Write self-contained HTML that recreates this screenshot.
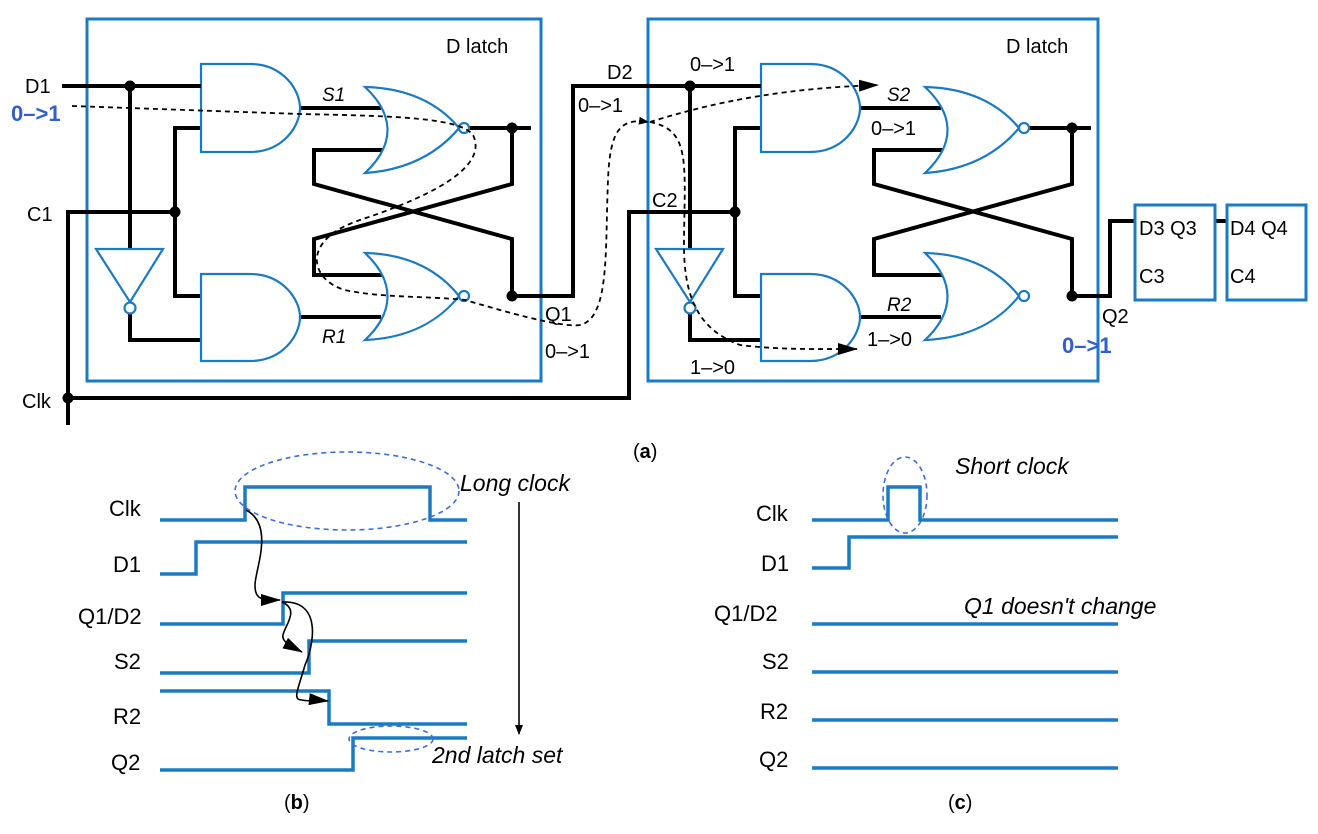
<!DOCTYPE html>
<html><head><meta charset="utf-8"><style>
html,body{margin:0;padding:0;background:#fff}
text{font-family:"Liberation Sans",Arial,sans-serif;font-size:20px;fill:#000}
.it{font-style:italic}
.w{font-size:22px}
</style></head><body>
<svg width="1318" height="829" viewBox="0 0 1318 829" xmlns="http://www.w3.org/2000/svg">
<defs>
<marker id="ah" markerWidth="10" markerHeight="8" refX="9" refY="4" orient="auto" markerUnits="userSpaceOnUse"><path d="M0,0 L10,4 L0,8 Z" fill="#000"/></marker>
<marker id="ah2" markerWidth="20" markerHeight="12" refX="19" refY="6" orient="auto" markerUnits="userSpaceOnUse"><path d="M0,0 L20,6 L0,12 Z" fill="#000"/></marker>
<g id="latch">
 <g fill="none" stroke="#000" stroke-width="4">
  <path d="M130,86 V249"/>
  <path d="M130,314 V340 H201"/>
  <path d="M201,128 H175 V296 H201"/>
  <path d="M300,108 H381"/>
  <path d="M300,317 H381"/>
  <path d="M384,150 H314 V184 L512,239 V296"/>
  <path d="M469,128 H531 M512,128 V184 L314,239 V275 H384"/>
 </g>
 <circle cx="130" cy="86" r="5.5"/><circle cx="175" cy="212" r="5.5"/>
 <circle cx="512" cy="128" r="5.5"/><circle cx="512" cy="296" r="5.5"/>
 <g fill="#fff" stroke="#1a7bc4" stroke-width="2.2">
  <path d="M96,249 H163 L130,302 Z"/>
  <circle cx="130" cy="308" r="5.5"/>
  <path d="M201,64 H250 C283,64 300,90 300,108 C300,126 283,152 250,152 H201 Z"/>
  <path d="M201,274 H250 C283,274 300,300 300,317 C300,335 283,361 250,361 H201 Z"/>
  <path d="M365,87 C410,88 440,105 459,128 C440,151 410,170 365,173 C395,145 395,115 365,87 Z"/>
  <path d="M365,253 C410,254 440,272 459,296 C440,320 410,338 365,340 C395,312 395,281 365,253 Z"/>
  <circle cx="464" cy="128" r="5"/><circle cx="464" cy="296" r="5"/>
 </g>
</g>
</defs>

<rect x="87" y="19" width="454" height="362" fill="none" stroke="#1a7bc4" stroke-width="3"/>
<rect x="648" y="19" width="450" height="362" fill="none" stroke="#1a7bc4" stroke-width="3"/>
<text x="446" y="53">D latch</text>
<text x="1006" y="53">D latch</text>

<use href="#latch"/>
<use href="#latch" transform="translate(560,0)"/>

<g fill="none" stroke="#000" stroke-width="4">
 <path d="M62,86 H201"/>
 <path d="M68,425 V212 H175"/>
 <path d="M68,398 H629 V212 H735"/>
 <path d="M512,296 H573 V86 H761"/>
 <path d="M1071,296 H1110 V221 H1135"/>
 <path d="M1215,221 H1227"/>
</g>
<circle cx="68" cy="398" r="5.5"/>
<rect x="1135" y="205" width="80" height="95" fill="none" stroke="#1a7bc4" stroke-width="3"/>
<rect x="1227" y="205" width="79" height="95" fill="none" stroke="#1a7bc4" stroke-width="3"/>
<text x="1139" y="235">D3 Q3</text><text x="1139" y="283">C3</text>
<text x="1230" y="235">D4 Q4</text><text x="1230" y="283">C4</text>

<text x="25" y="93">D1</text>
<text x="11" y="121" style="fill:#3060d0;font-weight:bold;font-size:22px">0–&gt;1</text>
<text x="27" y="221">C1</text>
<text x="22" y="408">Clk</text>
<text x="322" y="101" class="it" style="font-size:19px">S1</text>
<text x="322" y="343" class="it" style="font-size:19px">R1</text>
<text x="545" y="321">Q1</text>
<text x="545" y="358">0–&gt;1</text>
<text x="607" y="79">D2</text>
<text x="578" y="112">0–&gt;1</text>
<text x="652" y="207">C2</text>
<text x="690" y="71">0–&gt;1</text>
<text x="690" y="374">1–&gt;0</text>
<text x="887" y="101" class="it" style="font-size:19px">S2</text>
<text x="871" y="135">0–&gt;1</text>
<text x="887" y="311" class="it" style="font-size:19px">R2</text>
<text x="867" y="346">1–&gt;0</text>
<text x="1102" y="323">Q2</text>
<text x="1062" y="353" style="fill:#3060d0;font-weight:bold;font-size:22px">0–&gt;1</text>

<g fill="none" stroke="#000" stroke-width="1.8" stroke-dasharray="5,4">
 <path d="M72,106 L300,114 C400,116 460,118 473,135 C490,170 420,200 360,220 C300,240 310,280 345,290 C380,298 430,296 465,300 C500,310 560,328 580,325 C610,318 605,250 608,180 C610,130 620,118 648,122" marker-end="url(#ah)"/>
 <path d="M650,122 C720,100 790,88 878,85" marker-end="url(#ah2)"/>
 <path d="M650,122 C690,130 685,160 684,240 C683,300 700,330 740,345 C780,350 820,349 857,349" marker-end="url(#ah2)"/>
</g>
<text x="633" y="458">(<tspan font-weight="bold">a</tspan>)</text>

<g fill="none" stroke="#1a7bc4" stroke-width="3.5">
 <path d="M160,520 H245 V487 H430 V520 H467"/>
 <path d="M160,574 H196 V542 H467"/>
 <path d="M160,624 H283 V593 H467"/>
 <path d="M160,673 H309 V641 H467"/>
 <path d="M160,691 H329 V724 H467"/>
 <path d="M160,770 H353 V738 H467"/>
</g>
<g fill="none" stroke="#3b6fd8" stroke-width="1.6" stroke-dasharray="5,4">
 <ellipse cx="347" cy="491" rx="112" ry="39"/>
 <ellipse cx="391" cy="739" rx="42" ry="13"/>
</g>
<g fill="none" stroke="#000" stroke-width="1.6">
 <path d="M246,510 C275,525 255,570 255,585 C255,600 262,600 280,600" marker-end="url(#ah2)"/>
 <path d="M282,602 C300,610 285,625 283,635 C282,640 285,643 302,652" marker-end="url(#ah2)"/>
 <path d="M282,602 C325,600 312,650 305,665 C298,690 292,700 302,700 C310,702 318,700 328,701" marker-end="url(#ah2)"/>
 <path d="M519,502 V734" marker-end="url(#ah)"/>
</g>
<text x="109" y="516" class="w">Clk</text>
<text x="113" y="572" class="w">D1</text>
<text x="78" y="624" class="w">Q1/D2</text>
<text x="114" y="669" class="w">S2</text>
<text x="113" y="724" class="w">R2</text>
<text x="111" y="770" class="w">Q2</text>
<text x="460" y="491" class="it" style="font-size:23px">Long clock</text>
<text x="432" y="763" class="it" style="font-size:23px">2nd latch set</text>
<text x="284" y="809">(<tspan font-weight="bold">b</tspan>)</text>

<g fill="none" stroke="#1a7bc4" stroke-width="3.5">
 <path d="M812,520 H888 V487 H920 V520 H1118"/>
 <path d="M812,568 H849 V537 H1118"/>
 <path d="M812,624 H1118"/>
 <path d="M812,672 H1118"/>
 <path d="M812,720 H1118"/>
 <path d="M812,768 H1118"/>
</g>
<ellipse cx="905" cy="495" rx="22" ry="38" fill="none" stroke="#3b6fd8" stroke-width="1.6" stroke-dasharray="5,4"/>
<text x="756" y="521" class="w">Clk</text>
<text x="761" y="571" class="w">D1</text>
<text x="714" y="621" class="w">Q1/D2</text>
<text x="762" y="669" class="w">S2</text>
<text x="760" y="719" class="w">R2</text>
<text x="759" y="767" class="w">Q2</text>
<text x="955" y="474" class="it" style="font-size:23px">Short clock</text>
<text x="964" y="614" class="it" style="font-size:23px">Q1 doesn't change</text>
<text x="948" y="809">(<tspan font-weight="bold">c</tspan>)</text>
</svg>
</body></html>
